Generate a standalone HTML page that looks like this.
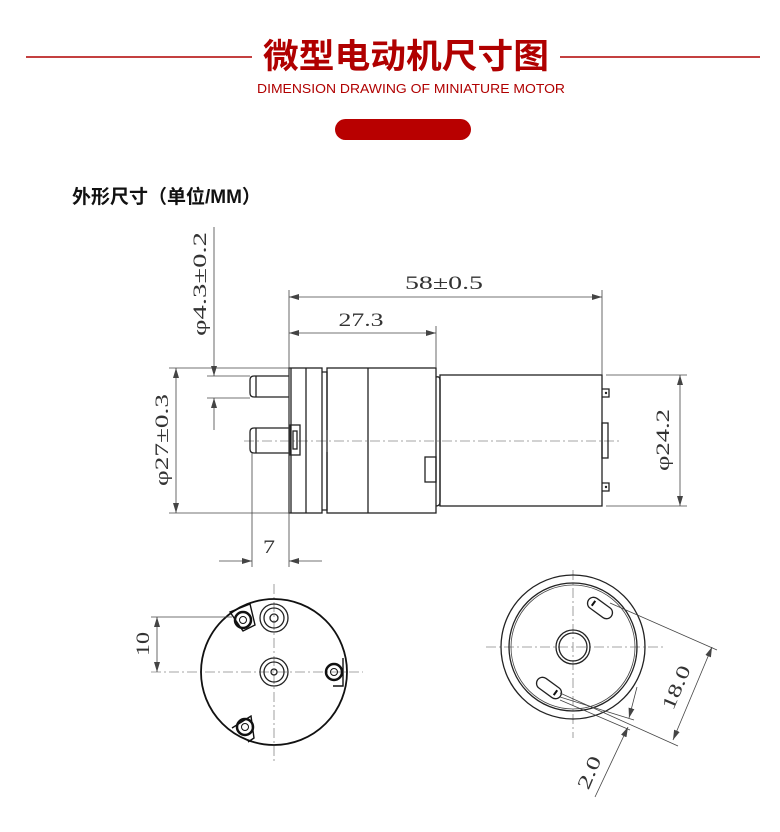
<!DOCTYPE html>
<html><head><meta charset="utf-8"><style>
html,body{margin:0;padding:0;background:#fff;}
body{width:780px;height:832px;overflow:hidden;}
svg{display:block}
.d{fill:none;stroke:#222;stroke-width:1.3}
.t{fill:none;stroke:#444;stroke-width:0.8}
.c{fill:none;stroke:#888;stroke-width:0.8;stroke-dasharray:10 3 2 3}
.n{font-family:"Liberation Serif",serif;font-size:19px;fill:#333}
</style></head><body>
<svg width="780" height="832" viewBox="0 0 780 832" xmlns="http://www.w3.org/2000/svg">
<defs>
<marker id="a" viewBox="0 0 10 6" refX="10" refY="3" markerWidth="10" markerHeight="6" orient="auto-start-reverse" markerUnits="userSpaceOnUse"><path d="M0,0 L10,3 L0,6 z" fill="#444"/></marker>
</defs>
<!-- header -->
<line x1="26" y1="57" x2="252" y2="57" stroke="#b00000" stroke-width="1.5"/>
<line x1="560" y1="57" x2="760" y2="57" stroke="#b00000" stroke-width="1.5"/>
<text x="406" y="68" text-anchor="middle" font-family="'Liberation Sans','Noto Sans CJK SC',sans-serif" font-size="34" font-weight="bold" fill="#b00000" textLength="286" lengthAdjust="spacingAndGlyphs">微型电动机尺寸图</text>
<text x="411" y="93" text-anchor="middle" font-family="'Liberation Sans',sans-serif" font-size="13" fill="#b00000" textLength="308" lengthAdjust="spacingAndGlyphs">DIMENSION DRAWING OF MINIATURE MOTOR</text>
<rect x="335" y="119" width="136" height="21" rx="10.5" fill="#b80000"/>
<text x="72" y="203" font-family="'Liberation Sans','Noto Sans CJK SC',sans-serif" font-size="19" font-weight="bold" fill="#111">外形尺寸（单位/MM）</text>

<!-- side view -->
<line class="c" x1="244" y1="441" x2="622" y2="441"/>
<rect class="d" x="289" y="368" width="33" height="145"/>
<line class="d" x1="291" y1="368" x2="291" y2="513"/>
<line class="d" x1="306" y1="368" x2="306" y2="513"/>
<path class="d" d="M322,372 H327 V430 M327,452 V510 H322"/>
<rect class="d" x="327" y="368" width="109" height="145"/>
<line class="d" x1="368" y1="368" x2="368" y2="513"/>
<path class="d" d="M436,377 Q440,376 440,380 V502 Q440,506 436,506"/>
<rect class="d" x="440" y="375" width="162" height="131"/>
<rect class="d" x="425" y="457" width="11" height="25"/>
<path class="d" d="M602,389 H609 V397 H602"/><circle cx="606" cy="393" r="1.2" fill="#222"/>
<path class="d" d="M602,483 H609 V491 H602"/><circle cx="606" cy="487" r="1.2" fill="#222"/>
<rect class="d" x="602" y="423" width="6" height="35"/>
<path class="d" d="M289,376 H254 Q250,376 250,380 V393 Q250,397 254,397 H289"/>
<line class="d" x1="256" y1="376" x2="256" y2="397"/>
<path class="d" d="M289,428 H254 Q250,428 250,432 V449 Q250,453 254,453 H289"/>
<line class="d" x1="256" y1="428" x2="256" y2="453"/>
<rect class="d" x="290" y="425" width="10" height="30"/>
<rect class="d" x="293" y="431" width="4" height="18"/>

<!-- side dims -->
<line class="t" x1="289" y1="290" x2="289" y2="567"/>
<line class="t" x1="602" y1="290" x2="602" y2="375"/>
<line class="t" x1="436" y1="326" x2="436" y2="368"/>
<line class="t" x1="289" y1="297" x2="602" y2="297" marker-start="url(#a)" marker-end="url(#a)"/>
<text class="n" x="444" y="289" text-anchor="middle" textLength="78" lengthAdjust="spacingAndGlyphs">58±0.5</text>
<line class="t" x1="289" y1="333" x2="436" y2="333" marker-start="url(#a)" marker-end="url(#a)"/>
<text class="n" x="361" y="326" text-anchor="middle" textLength="45" lengthAdjust="spacingAndGlyphs">27.3</text>
<line class="t" x1="207" y1="376" x2="250" y2="376"/>
<line class="t" x1="207" y1="398" x2="250" y2="398"/>
<line class="t" x1="214" y1="227" x2="214" y2="376" marker-end="url(#a)"/>
<line class="t" x1="214" y1="430" x2="214" y2="398" marker-end="url(#a)"/>
<text class="n" transform="translate(206,284) rotate(-90)" text-anchor="middle" textLength="104" lengthAdjust="spacingAndGlyphs">φ4.3±0.2</text>
<line class="t" x1="169" y1="368" x2="289" y2="368"/>
<line class="t" x1="169" y1="513" x2="289" y2="513"/>
<line class="t" x1="176" y1="368" x2="176" y2="513" marker-start="url(#a)" marker-end="url(#a)"/>
<text class="n" transform="translate(168,440) rotate(-90)" text-anchor="middle" textLength="92" lengthAdjust="spacingAndGlyphs">φ27±0.3</text>
<line class="t" x1="606" y1="375" x2="687" y2="375"/>
<line class="t" x1="606" y1="506" x2="687" y2="506"/>
<line class="t" x1="680" y1="375" x2="680" y2="506" marker-start="url(#a)" marker-end="url(#a)"/>
<text class="n" transform="translate(669,440) rotate(-90)" text-anchor="middle" textLength="62" lengthAdjust="spacingAndGlyphs">φ24.2</text>
<line class="t" x1="252" y1="453" x2="252" y2="567"/>
<line class="t" x1="219" y1="561" x2="252" y2="561" marker-end="url(#a)"/>
<line class="t" x1="322" y1="561" x2="289" y2="561" marker-end="url(#a)"/>
<text class="n" x="269" y="553" text-anchor="middle" textLength="12" lengthAdjust="spacingAndGlyphs">7</text>

<!-- front view left -->
<line class="c" x1="274" y1="584" x2="274" y2="763"/>
<line class="c" x1="151" y1="672" x2="363" y2="672"/>
<circle cx="274" cy="672" r="73" fill="none" stroke="#111" stroke-width="1.8"/>
<g class="d">
<circle cx="274" cy="618" r="14"/><circle cx="274" cy="618" r="10"/><circle cx="274" cy="618" r="4"/>
<circle cx="274" cy="672" r="14"/><circle cx="274" cy="672" r="10"/><circle cx="274" cy="672" r="3"/>
</g>
<g stroke="#111" fill="none">
<path d="M230,612 L250,604 L255,625 L243,631 Z" stroke-width="1.4"/>
<circle cx="243" cy="620" r="8" stroke-width="2.5"/><circle cx="243" cy="620" r="3.5"/>
<path d="M343,658 V686 H333" stroke-width="1.4"/>
<circle cx="334" cy="672" r="8" stroke-width="2.5"/><circle cx="334" cy="672" r="3.5"/>
<path d="M232,728 L251,716 L254,738 L248,742" stroke-width="1.4"/>
<circle cx="245" cy="727" r="8" stroke-width="2.5"/><circle cx="245" cy="727" r="3.5"/>
</g>
<line class="t" x1="151" y1="617" x2="232" y2="617"/>
<line class="t" x1="157" y1="617" x2="157" y2="672" marker-start="url(#a)" marker-end="url(#a)"/>
<text class="n" transform="translate(149,644) rotate(-90)" text-anchor="middle" textLength="24" lengthAdjust="spacingAndGlyphs">10</text>

<!-- front view right -->
<line class="c" x1="486" y1="647" x2="663" y2="647"/>
<line class="c" x1="573" y1="570" x2="573" y2="738"/>
<circle cx="573" cy="647" r="72" class="d"/>
<circle cx="573" cy="647" r="64" class="d"/>
<circle cx="573" cy="647" r="62" class="t"/>
<circle cx="573" cy="647" r="17" class="d"/>
<circle cx="573" cy="647" r="14" class="d"/>
<g transform="translate(600,608) rotate(36)"><rect x="-14" y="-6" width="28" height="12" rx="6" class="d"/><line x1="-8" y1="-3" x2="-8" y2="3" stroke="#111" stroke-width="2"/></g>
<g transform="translate(549,688) rotate(36)"><rect x="-14" y="-6" width="28" height="12" rx="6" class="d"/><line x1="8" y1="-3" x2="8" y2="3" stroke="#111" stroke-width="2"/></g>
<line class="t" x1="610" y1="603" x2="717" y2="650"/>
<line class="t" x1="560" y1="693" x2="678" y2="746"/>
<line class="t" x1="560" y1="697" x2="634" y2="720"/>
<line class="t" x1="560" y1="700" x2="630" y2="730"/>
<line class="t" x1="673" y1="740" x2="712" y2="647" marker-start="url(#a)" marker-end="url(#a)"/>
<text class="n" transform="translate(682,690) rotate(-67)" text-anchor="middle" textLength="46" lengthAdjust="spacingAndGlyphs">18.0</text>
<line class="t" x1="637" y1="687" x2="629" y2="718" marker-end="url(#a)"/>
<line class="t" x1="595" y1="797" x2="628" y2="727" marker-end="url(#a)"/>
<text class="n" transform="translate(595,775) rotate(-67)" text-anchor="middle" textLength="34" lengthAdjust="spacingAndGlyphs">2.0</text>
</svg>
</body></html>
